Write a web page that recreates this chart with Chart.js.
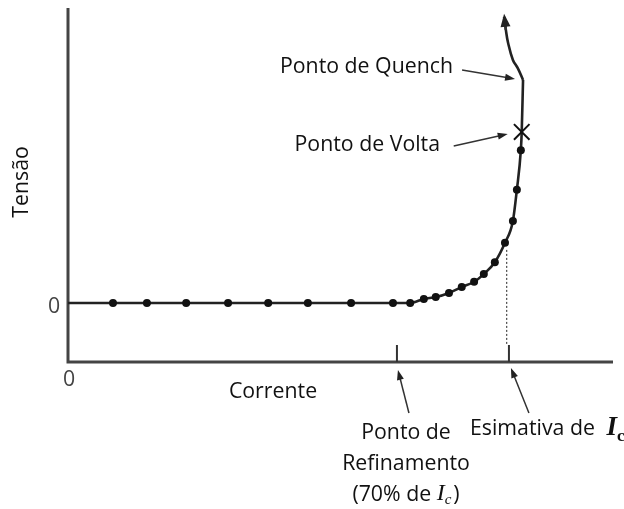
<!DOCTYPE html>
<html>
<head>
<meta charset="utf-8">
<script src="https://cdn.jsdelivr.net/npm/chart.js@4.4.1/dist/chart.umd.min.js"></script>
<style>
  body { margin: 0; background: #fff; }
  #wrap { width: 624px; height: 509px; position: relative; }
</style>
</head>
<body>
<div id="wrap"><canvas id="curve"></canvas></div>
<script>
// current (arbitrary units, Ic estimate ~ 100) and voltage readings of the dots
const currentDots = [10.2, 17.9, 26.8, 36.3, 45.4, 54.4, 64.2, 73.7, 77.6, 80.7, 83.4, 86.4, 89.3, 92.1, 94.3, 96.8, 99.1, 100.9, 101.8, 102.7];
const voltageDots = [0, 0, 0, 0, 0, 0, 0, 0, 0, 0.068, 0.10, 0.17, 0.27, 0.36, 0.49, 0.69, 1.02, 1.39, 1.92, 2.59];

// "Ponto de Volta" (the X) and "Ponto de Quench"
const voltaPoint = { x: 102.9, y: 2.90 };
const quenchPoint = { x: 103.2, y: 3.78 };

// thermal runaway tail after the quench, ends with an arrow
const runawayCurrent = [103.2, 102.0, 100.9, 99.8, 99.3, 98.9];
const runawayVoltage = [3.78, 3.98, 4.12, 4.41, 4.63, 4.85];

// marks on the current axis
const refinementTick = 74.6;   // 70% de Ic
const icTick = 100;
const icDashed = 99.5;

const FONT = "'Open Sans', sans-serif";
const SIZE = '21.3px ';

const mainLine = [{ x: 0, y: 0 }]
  .concat(currentDots.map((c, i) => ({ x: c, y: voltageDots[i] })))
  .concat([voltaPoint, quenchPoint]);

const runaway = runawayCurrent.map((c, i) => ({ x: c, y: runawayVoltage[i] }));

function arrow(ctx, x1, y1, x2, y2, head, half) {
  const a = Math.atan2(y2 - y1, x2 - x1);
  ctx.beginPath();
  ctx.moveTo(x1, y1);
  ctx.lineTo(x2 - Math.cos(a) * head * 0.7, y2 - Math.sin(a) * head * 0.7);
  ctx.stroke();
  const bx = x2 - Math.cos(a) * head, by = y2 - Math.sin(a) * head;
  ctx.beginPath();
  ctx.moveTo(x2, y2);
  ctx.lineTo(bx + Math.sin(a) * half, by - Math.cos(a) * half);
  ctx.lineTo(bx - Math.sin(a) * half, by + Math.cos(a) * half);
  ctx.closePath();
  ctx.fill();
}

const decorations = {
  id: 'decorations',
  beforeDatasetsDraw(chart) {
    const ctx = chart.ctx;
    const xs = chart.scales.x, ys = chart.scales.y;
    const left = xs.getPixelForValue(0), right = xs.getPixelForValue(xs.max);
    const bottom = ys.getPixelForValue(ys.min), top = ys.getPixelForValue(ys.max);
    ctx.save();
    ctx.strokeStyle = '#444';
    ctx.lineWidth = 3;
    ctx.beginPath();
    ctx.moveTo(left, top);
    ctx.lineTo(left, bottom);
    ctx.lineTo(right, bottom);
    ctx.stroke();

    // ticks on current axis
    ctx.lineWidth = 2;
    ctx.strokeStyle = '#333';
    [refinementTick, icTick].forEach(v => {
      const x = xs.getPixelForValue(v);
      ctx.beginPath();
      ctx.moveTo(x, bottom);
      ctx.lineTo(x, bottom - 17);
      ctx.stroke();
    });

    // dashed drop line from the Ic estimate
    const dx = xs.getPixelForValue(icDashed);
    ctx.lineWidth = 1;
    ctx.setLineDash([2, 2]);
    ctx.strokeStyle = '#222';
    ctx.beginPath();
    ctx.moveTo(dx, ys.getPixelForValue(0.9));
    ctx.lineTo(dx, bottom - 17);
    ctx.stroke();
    ctx.restore();
  },
  afterDatasetsDraw(chart) {
    const ctx = chart.ctx;
    const xs = chart.scales.x, ys = chart.scales.y;
    const left = xs.getPixelForValue(0), bottom = ys.getPixelForValue(ys.min);
    ctx.save();
    ctx.fillStyle = '#222';
    ctx.strokeStyle = '#333';

    // arrow at end of runaway
    const n = runaway.length;
    const tx = xs.getPixelForValue(runaway[n - 1].x), ty = ys.getPixelForValue(runaway[n - 1].y) - 3;
    const sx = xs.getPixelForValue(runaway[n - 2].x), sy = ys.getPixelForValue(runaway[n - 2].y);
    ctx.lineWidth = 2.5;
    arrow(ctx, sx, sy, tx, ty, 13, 5);

    // pointer arrows
    ctx.lineWidth = 1.5;
    const qx = xs.getPixelForValue(quenchPoint.x), qy = ys.getPixelForValue(quenchPoint.y);
    arrow(ctx, qx - 61, qy - 10, qx - 8, qy - 1, 10, 3.5);
    const vx = xs.getPixelForValue(voltaPoint.x), vy = ys.getPixelForValue(voltaPoint.y);
    arrow(ctx, vx - 68, vy + 14, vx - 14, vy + 2, 10, 3.5);
    const rx = xs.getPixelForValue(refinementTick);
    arrow(ctx, rx + 12, bottom + 51, rx + 1, bottom + 8, 10, 3.5);
    const ix = xs.getPixelForValue(icTick);
    arrow(ctx, ix + 20, bottom + 51, ix + 2, bottom + 6, 10, 3.5);

    // texts
    ctx.fillStyle = '#111';
    ctx.textBaseline = 'middle';
    ctx.font = SIZE + FONT;
    ctx.textAlign = 'right';
    ctx.fillText('Ponto de Quench', 453, 67);
    ctx.fillText('Ponto de Volta', 440, 145);
    ctx.textAlign = 'center';
    ctx.fillText('Corrente', 273, 392);
    ctx.fillText('Ponto de', 406, 433);
    ctx.fillText('Refinamento', 406, 464);

    // (70% de Ic)
    const serif = "italic 24px 'Liberation Serif', serif";
    const sub = "italic 15px 'Liberation Serif', serif";
    ctx.font = SIZE + FONT;
    const wA = ctx.measureText('(70% de ').width;
    const wP = ctx.measureText(')').width;
    ctx.font = serif;
    const wI = ctx.measureText('I').width;
    ctx.font = sub;
    const wc = ctx.measureText('c').width;
    let x0 = 406 - (wA + wI + wc + 2 + wP) / 2;
    ctx.textAlign = 'left';
    ctx.font = SIZE + FONT;
    ctx.fillText('(70% de ', x0, 495);
    ctx.font = serif;
    ctx.fillText('I', x0 + wA, 494);
    ctx.font = sub;
    ctx.fillText('c', x0 + wA + wI, 500);
    ctx.font = SIZE + FONT;
    ctx.fillText(')', x0 + wA + wI + wc + 2, 495);

    // Esimativa de Ic
    ctx.fillText('Esimativa de ', 470, 429);
    const we = ctx.measureText('Esimativa de ').width;
    ctx.font = "bold italic 27px 'Liberation Serif', serif";
    ctx.fillText('I', 470 + we + 6, 428);
    const wI2 = ctx.measureText('I').width;
    ctx.font = "bold 17px 'Liberation Serif', serif";
    ctx.fillText('c', 470 + we + 6 + wI2, 437);

    // rotated y title
    ctx.font = SIZE + FONT;
    ctx.save();
    ctx.translate(22, 182);
    ctx.rotate(-Math.PI / 2);
    ctx.textAlign = 'center';
    ctx.fillText('Tensão', 0, 0);
    ctx.restore();

    // zeros
    ctx.fillStyle = '#444';
    ctx.font = SIZE + FONT;
    ctx.textAlign = 'center';
    ctx.fillText('0', left - 14, ys.getPixelForValue(0) + 4);
    ctx.fillText('0', left + 1, bottom + 18);
    ctx.restore();
  }
};

new Chart(document.getElementById('curve'), {
  type: 'line',
  data: {
    datasets: [
      {
        data: mainLine,
        borderColor: '#222',
        borderWidth: 2.6,
        cubicInterpolationMode: 'monotone',
        pointRadius: ctx => ctx.dataIndex === 0 || ctx.dataIndex === mainLine.length - 1 ? 0 : (ctx.dataIndex === mainLine.length - 2 ? 11 : 4),
        pointStyle: ctx => ctx.dataIndex === mainLine.length - 2 ? 'crossRot' : 'circle',
        pointBackgroundColor: '#111',
        pointBorderColor: '#111',
        pointBorderWidth: ctx => ctx.dataIndex === mainLine.length - 2 ? 2 : 0,
        clip: false
      },
      {
        data: runaway,
        borderColor: '#222',
        borderWidth: 2.6,
        tension: 0.4,
        pointRadius: 0,
        clip: false
      }
    ]
  },
  options: {
    responsive: true,
    maintainAspectRatio: false,
    animation: false,
    events: [],
    layout: { padding: { left: 68, right: 11, top: 8, bottom: 147 } },
    plugins: { legend: { display: false }, tooltip: { enabled: false } },
    scales: {
      x: { type: 'linear', min: 0, max: 123.6, display: false },
      y: { type: 'linear', min: -1, max: 5, display: false }
    }
  },
  plugins: [decorations]
});
</script>
</body>
</html>
